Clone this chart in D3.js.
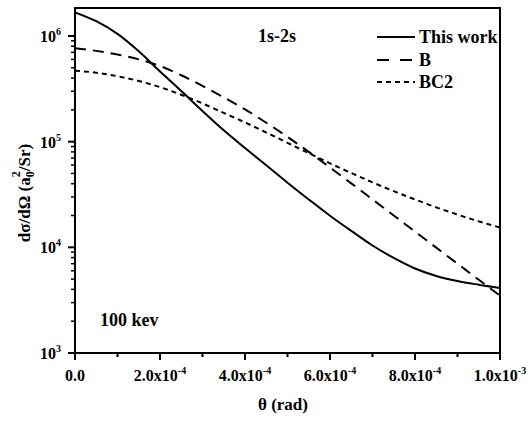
<!DOCTYPE html>
<html>
<head>
  <meta charset="utf-8">
  <script src="https://d3js.org/d3.v7.min.js"></script>
  <style>
    body { margin: 0; background: #fff; }
    svg text { font-family: "Liberation Serif", "Times New Roman", serif; font-weight: bold; fill: #000; }
  </style>
</head>
<body>
<script>
  // theta values (rad), read every 0.5e-4
  var theta = [0, 0.5e-4, 1.0e-4, 1.5e-4, 2.0e-4, 2.5e-4, 3.0e-4, 3.5e-4, 4.0e-4, 4.5e-4,
               5.0e-4, 5.5e-4, 6.0e-4, 6.5e-4, 7.0e-4, 7.5e-4, 8.0e-4, 8.5e-4, 9.0e-4, 9.5e-4, 1.0e-3];
  var thisWork = [1.675e6, 1.38e6, 1.047e6, 7.16e5, 4.62e5, 3.01e5, 1.95e5, 1.28e5, 8.71e4, 5.97e4,
                  4.09e4, 2.84e4, 1.99e4, 1.43e4, 1.04e4, 7.93e3, 6.30e3, 5.36e3, 4.80e3, 4.43e3, 4.13e3];
  var seriesB = [7.66e5, 7.23e5, 6.67e5, 6.01e5, 5.20e5, 4.25e5, 3.37e5, 2.63e5, 2.02e5, 1.51e5,
                 1.11e5, 8.00e4, 5.69e4, 4.03e4, 2.84e4, 2.00e4, 1.41e4, 9.93e3, 7.00e3, 4.93e3, 3.49e3];
  var seriesBC2 = [4.70e5, 4.49e5, 4.16e5, 3.75e5, 3.28e5, 2.78e5, 2.30e5, 1.87e5, 1.52e5, 1.22e5,
                   9.75e4, 7.78e4, 6.24e4, 5.05e4, 4.12e4, 3.40e4, 2.84e4, 2.39e4, 2.04e4, 1.76e4, 1.54e4];
  var seriesNames = ["This work", "B", "BC2"];
  var xTicks = [0, 2e-4, 4e-4, 6e-4, 8e-4, 1e-3];
  var xTickLabels = ["0.0", "2.0x10", "4.0x10", "6.0x10", "8.0x10", "1.0x10"];
  var xTickExps = ["", "-4", "-4", "-4", "-4", "-3"];
  var yTicks = [1e3, 1e4, 1e5, 1e6];
  var yTickExps = ["3", "4", "5", "6"];

  var W = 531, H = 421;
  var margin = {top: 8, right: 31, bottom: 68, left: 75};
  var w = W - margin.left - margin.right,
      h = H - margin.top - margin.bottom;

  var svg = d3.select("body").append("svg")
    .attr("width", W).attr("height", H);
  var g = svg.append("g")
    .attr("transform", "translate(" + margin.left + "," + margin.top + ")");

  var x = d3.scaleLinear().domain([0, 1e-3]).range([0, w]);
  var y = d3.scaleLog().domain([1e3, 1.84e6]).range([h, 0]);

  // clip so curves stay inside the frame
  g.append("clipPath").attr("id", "clip")
    .append("rect").attr("width", w).attr("height", h);

  var dashes = [null, "11,7", "5,4"];
  var allSeries = [thisWork, seriesB, seriesBC2];

  var line = d3.line()
    .x(function (d) { return x(d[0]); })
    .y(function (d) { return y(d[1]); })
    .curve(d3.curveMonotoneX);

  allSeries.forEach(function (vals, i) {
    g.append("path")
      .datum(theta.map(function (t, j) { return [t, vals[j]]; }))
      .attr("clip-path", "url(#clip)")
      .attr("fill", "none")
      .attr("stroke", "#000")
      .attr("stroke-width", 2)
      .attr("stroke-dasharray", dashes[i])
      .attr("d", line);
  });

  // x axis: major + minor ticks
  var xMinor = d3.range(1e-4, 1e-3, 2e-4);
  g.selectAll(".xminor").data(xMinor).enter().append("line")
    .attr("x1", function (d) { return x(d); }).attr("x2", function (d) { return x(d); })
    .attr("y1", h).attr("y2", h + 4)
    .attr("stroke", "#000").attr("stroke-width", 2);
  g.selectAll(".xmajor").data(xTicks).enter().append("line")
    .attr("x1", function (d) { return x(d); }).attr("x2", function (d) { return x(d); })
    .attr("y1", h).attr("y2", h + 7)
    .attr("stroke", "#000").attr("stroke-width", 2);
  var xl = g.selectAll(".xlab").data(xTicks).enter().append("text")
    .attr("x", function (d) { return x(d); })
    .attr("y", h + 28)
    .attr("text-anchor", "middle")
    .style("font-size", "16px");
  xl.append("tspan").text(function (d, i) { return xTickLabels[i]; });
  xl.append("tspan").attr("dy", -7).style("font-size", "10px")
    .text(function (d, i) { return xTickExps[i]; });

  // y axis: major + minor ticks
  var yMinor = [];
  [1e3, 1e4, 1e5, 1e6].forEach(function (dec) {
    for (var k = 2; k <= 9; k++) {
      if (dec * k <= 1.84e6) yMinor.push(dec * k);
    }
  });
  g.selectAll(".yminor").data(yMinor).enter().append("line")
    .attr("y1", function (d) { return y(d); }).attr("y2", function (d) { return y(d); })
    .attr("x1", 0).attr("x2", -4)
    .attr("stroke", "#000").attr("stroke-width", 1.5);
  g.selectAll(".ymajor").data(yTicks).enter().append("line")
    .attr("y1", function (d) { return y(d); }).attr("y2", function (d) { return y(d); })
    .attr("x1", 0).attr("x2", -7)
    .attr("stroke", "#000").attr("stroke-width", 2);
  var yl = g.selectAll(".ylab").data(yTicks).enter().append("text")
    .attr("x", -35)
    .attr("y", function (d) { return y(d) + 6; })
    .style("font-size", "16px");
  yl.append("tspan").text("10");
  yl.append("tspan").attr("dy", -7).style("font-size", "10px")
    .text(function (d, i) { return yTickExps[i]; });

  // frame
  g.append("rect")
    .attr("width", w).attr("height", h)
    .attr("fill", "none").attr("stroke", "#000").attr("stroke-width", 2);

  // axis titles
  svg.append("text")
    .attr("x", 283).attr("y", 410)
    .attr("text-anchor", "middle")
    .style("font-size", "17px")
    .text("\u03b8 (rad)");

  var yt = svg.append("text")
    .attr("transform", "translate(30,193) rotate(-90)")
    .attr("text-anchor", "middle")
    .style("font-size", "17px");
  yt.append("tspan").text("d\u03c3/d\u03a9  (a");
  yt.append("tspan").attr("dy", 4).style("font-size", "12px").text("0");
  yt.append("tspan").attr("dx", -6).attr("dy", -14).style("font-size", "12px").text("2");
  yt.append("tspan").attr("dy", 10).text("/Sr)");

  // annotations
  svg.append("text").attr("x", 258).attr("y", 42)
    .style("font-size", "18px").text("1s-2s");
  svg.append("text").attr("x", 100).attr("y", 326)
    .style("font-size", "18px").text("100 kev");

  // legend
  var legY = [37, 60, 82];
  seriesNames.forEach(function (name, i) {
    svg.append("line")
      .attr("x1", 377).attr("x2", 415)
      .attr("y1", legY[i]).attr("y2", legY[i])
      .attr("stroke", "#000").attr("stroke-width", 2)
      .attr("stroke-dasharray", i === 1 ? "12,11" : dashes[i]);
    svg.append("text")
      .attr("x", 419).attr("y", legY[i] + 6)
      .style("font-size", "18px")
      .text(name);
  });
</script>
</body>
</html>
